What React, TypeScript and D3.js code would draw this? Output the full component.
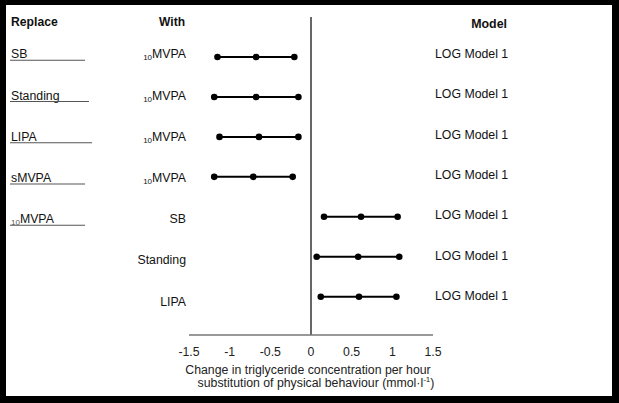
import React from "react";
import * as d3 from "d3";

const replaceLabels = ["SB", "Standing", "LIPA", "sMVPA", "MVPA"];
const replaceSub = [false, false, false, false, true];
const withLabels = ["MVPA", "MVPA", "MVPA", "MVPA", "SB", "Standing", "LIPA"];
const withSub = [true, true, true, true, false, false, false];
const modelLabels = ["LOG Model 1", "LOG Model 1", "LOG Model 1", "LOG Model 1", "LOG Model 1", "LOG Model 1", "LOG Model 1"];
const lower = [-1.15, -1.19, -1.125, -1.19, 0.16, 0.07, 0.12];
const estimate = [-0.675, -0.675, -0.64, -0.71, 0.615, 0.58, 0.59];
const upper = [-0.205, -0.155, -0.155, -0.225, 1.065, 1.085, 1.05];
const xTicks = [-1.5, -1, -0.5, 0, 0.5, 1, 1.5];
const underlineEnds = [85, 89, 92, 85, 85];

const W = 619;
const H = 403;
const FONT = "Liberation Sans, Arial, sans-serif";

export default function App() {
  const idx = d3.range(withLabels.length);
  const x = d3.scaleLinear().domain([-1.5, 1.5]).range([189, 433]);
  const y = d3.scalePoint<number>().domain(idx).range([57, 296.7]);
  const yLab = d3.scalePoint<number>().domain(idx).range([58.3, 305.7]);
  const yMod = d3.scalePoint<number>().domain(idx).range([58, 300]);
  const fmt = (v: number) => (v === 0 ? "0" : String(v));

  return (
    <svg width={W} height={H} style={{ position: "absolute", left: 0, top: 0 }} fontFamily={FONT}>
      <rect x={0} y={0} width={W} height={H} fill="#000" />
      <rect x={6} y={5} width={606} height={391} fill="#fff" />

      {/* headers */}
      <text x={11} y={26} fontSize={12.2} fontWeight="bold" fill="#111">Replace</text>
      <text x={185} y={26} fontSize={12} fontWeight="bold" textAnchor="end" fill="#111">With</text>
      <text x={507} y={27.5} fontSize={12.4} fontWeight="bold" textAnchor="end" fill="#111">Model</text>

      {/* zero line */}
      <line x1={x(0)} x2={x(0)} y1={17} y2={335} stroke="#000" strokeWidth={1.2} />

      {/* x axis */}
      <line x1={x(-1.5)} x2={x(1.5)} y1={335} y2={335} stroke="#777" strokeWidth={1.3} />
      {xTicks.map((t) => (
        <text key={t} x={x(t)} y={356} fontSize={12.3} textAnchor="middle" fill="#222">{fmt(t)}</text>
      ))}
      <text x={308} y={373.5} fontSize={12.3} textAnchor="middle" fill="#222">
        Change in triglyceride concentration per hour
      </text>
      <text x={316} y={387} fontSize={12.3} textAnchor="middle" fill="#222">
        substitution of physical behaviour (mmol·l
        <tspan fontSize={8} dy={-5}>-1</tspan>
        <tspan dy={5}>)</tspan>
      </text>

      {/* replace labels */}
      {replaceLabels.map((lab, i) => (
        <g key={"r" + i}>
          <text x={11} y={yLab(i)! - (i === 4 ? 0 : 0)} fontSize={12.3} fill="#111">
            {replaceSub[i] ? (
              <>
                <tspan fontSize={8} dy={2} fill="#555">10</tspan>
                <tspan dy={-2}>{lab}</tspan>
              </>
            ) : (
              lab
            )}
          </text>
          <line x1={10} x2={underlineEnds[i]} y1={yLab(i)! + 2} y2={yLab(i)! + 2} stroke="#555" strokeWidth={1.1} />
        </g>
      ))}

      {/* with labels */}
      {withLabels.map((lab, i) => (
        <text key={"w" + i} x={186} y={yLab(i)} fontSize={12.3} textAnchor="end" fill="#111">
          {withSub[i] ? (
            <>
              <tspan fontSize={8} dy={2}>10</tspan>
              <tspan dy={-2}>{lab}</tspan>
            </>
          ) : (
            lab
          )}
        </text>
      ))}

      {/* model labels */}
      {modelLabels.map((lab, i) => (
        <text key={"m" + i} x={435} y={yMod(i)} fontSize={12.3} fill="#111">{lab}</text>
      ))}

      {/* CI lines and dots */}
      {idx.map((i) => (
        <g key={"c" + i}>
          <line x1={x(lower[i])} x2={x(upper[i])} y1={y(i)} y2={y(i)} stroke="#000" strokeWidth={2} />
          {[lower[i], estimate[i], upper[i]].map((v, j) => (
            <circle key={j} cx={x(v)} cy={y(i)} r={3.3} fill="#000" />
          ))}
        </g>
      ))}
    </svg>
  );
}
